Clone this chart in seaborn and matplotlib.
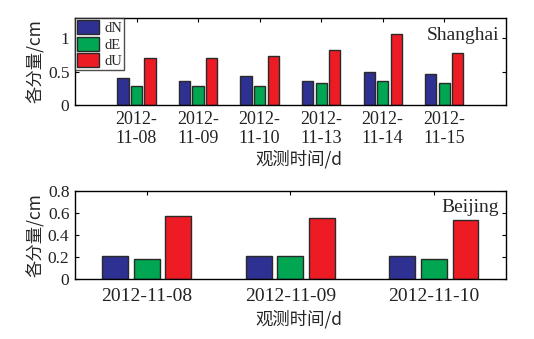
import numpy as np
import pandas as pd
import matplotlib
matplotlib.use("Agg")
import matplotlib.pyplot as plt
import seaborn as sns

# data
sh_dates = ["2012-\n11-08", "2012-\n11-09", "2012-\n11-10", "2012-\n11-13", "2012-\n11-14", "2012-\n11-15"]
sh_dN = [0.41, 0.36, 0.44, 0.355, 0.50, 0.47]
sh_dE = [0.29, 0.29, 0.29, 0.325, 0.355, 0.325]
sh_dU = [0.71, 0.71, 0.73, 0.825, 1.06, 0.77]

bj_dates = ["2012-11-08", "2012-11-09", "2012-11-10"]
bj_dN = [0.21, 0.21, 0.21]
bj_dE = [0.18, 0.21, 0.18]
bj_dU = [0.57, 0.55, 0.535]

components = ["dN", "dE", "dU"]
palette = {"dN": "#2E3192", "dE": "#00A651", "dU": "#ED1C24"}


def long_df(dates, dN, dE, dU):
    rows = []
    for comp, vals in zip(components, [dN, dE, dU]):
        for d, v in zip(dates, vals):
            rows.append({"date": d, "comp": comp, "val": v})
    return pd.DataFrame(rows)


sns.set_theme(style="ticks")
plt.rcParams['font.family'] = ['Liberation Serif', 'Noto Sans CJK SC']
plt.rcParams['axes.linewidth'] = 1.0
cjk = ['Noto Sans CJK SC', 'Liberation Serif']

fig = plt.figure(figsize=(5.34, 3.39), dpi=100)
ax1 = fig.add_axes([0.1404, 0.690, 0.8066, 0.257])
ax2 = fig.add_axes([0.1404, 0.176, 0.8066, 0.2615])

df1 = long_df(sh_dates, sh_dN, sh_dE, sh_dU)
df2 = long_df(bj_dates, bj_dN, bj_dE, bj_dU)

for ax, df in [(ax1, df1), (ax2, df2)]:
    sns.barplot(data=df, x="date", y="val", hue="comp", hue_order=components,
                palette=palette, width=0.66, gap=0.18, edgecolor="#2a2a2a",
                linewidth=1.0, saturation=1, ax=ax, legend=(ax is ax1))
    ax.tick_params(direction="in", top=True, right=True, labelsize=12.5,
                   length=3, width=0.8, colors="black", pad=4)
    for lab in ax.get_xticklabels() + ax.get_yticklabels():
        lab.set_color("#222222")
    ax.set_ylabel("各分量/cm", fontsize=12.5, family=cjk, labelpad=2)
    ax.set_xlabel("观测时间/d", fontsize=12.5, family=cjk, labelpad=0)
    for s in ax.spines.values():
        s.set_visible(True)
        s.set_color("black")

ax1.set_xlim(-1, 6)
ax1.set_ylim(0, 1.3)
ax1.set_yticks([0, 0.5, 1])
ax1.set_yticklabels(["0", "0.5", "1"])
ax1.tick_params(axis="x", labelsize=13)
ax1.text(0.985, 0.80, "Shanghai", transform=ax1.transAxes, ha="right",
         va="center", fontsize=14)
ax1.xaxis.set_label_coords(0.52, -0.52)

ax2.set_xlim(-0.5, 2.5)
ax2.set_ylim(0, 0.8)
ax2.set_yticks([0, 0.2, 0.4, 0.6, 0.8])
ax2.set_yticklabels(["0", "0.2", "0.4", "0.6", "0.8"])
ax2.tick_params(axis="x", labelsize=14, pad=6)
ax2.text(0.985, 0.81, "Beijing", transform=ax2.transAxes, ha="right",
         va="center", fontsize=14)
ax2.xaxis.set_label_coords(0.52, -0.35)

handles, labels = ax1.get_legend_handles_labels()
leg = ax1.legend(handles, labels, loc="upper left", fontsize=10.5,
                 frameon=True, fancybox=False, edgecolor="#222222",
                 handlelength=1.5, handleheight=1.1, handletextpad=0.35,
                 borderpad=0.15, labelspacing=0.1, borderaxespad=0.0)
leg.get_frame().set_linewidth(1.0)

fig.savefig("out.png", dpi=100)
